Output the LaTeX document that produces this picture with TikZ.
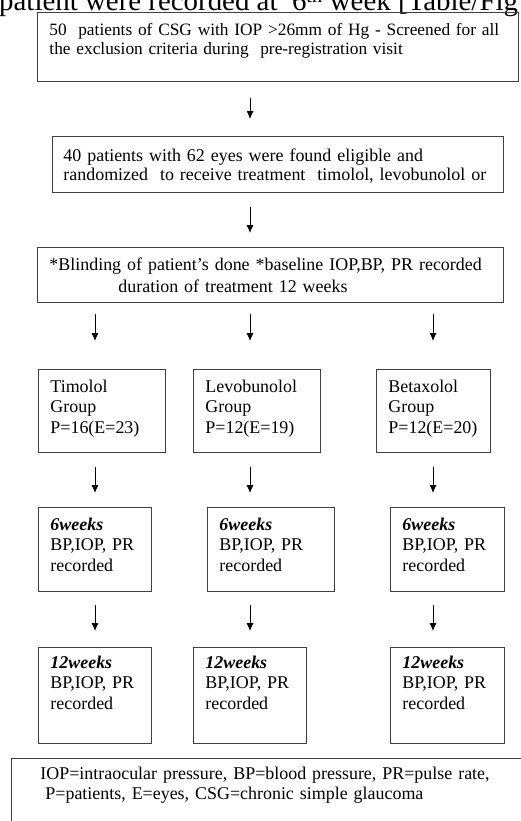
\documentclass[tikz,border=0pt]{standalone}
\usepackage{fontspec}
\setmainfont{Liberation Serif}
\usetikzlibrary{arrows.meta}

\begin{document}
\begin{tikzpicture}[x=1bp, y=-1bp,
    box/.style={draw=black!75, line width=0.9bp, anchor=north west, align=left,
      inner xsep=12bp, inner ysep=0pt, text height=23bp,
      font=\fontsize{18}{20.5}\selectfont},
    arr/.style={-{Latex[length=8bp,width=7bp]}, line width=0.9bp}]
  \useasboundingbox (0,0) rectangle (521,821);
  % caption line cut off at the top
  \node[anchor=base west, inner sep=0pt, font=\fontsize{29}{32}\selectfont] (caption) at (-1,11)
    {patient were recorded at\ \ 6\textsuperscript{th} week [Table/Fig};

  \node[box, text width=457bp, text depth=46bp, font=\fontsize{17.4}{19}\selectfont] (screen) at (37,12)
    {50\ \ patients of CSG with IOP >26mm of Hg - Screened for all\\the exclusion criteria during\ \ pre-registration visit};
  \node[box, inner xsep=11bp, text width=429bp, text height=25bp, text depth=31bp, font=\fontsize{18}{19}\selectfont] (random) at (52,136)
    {40 patients with 62 eyes were found eligible and\\randomized\ \ to receive treatment\ \ timolol, levobunolol or};
  \node[box, text width=442bp, text depth=32bp, font=\fontsize{18}{22}\selectfont] (blind) at (37,247)
    {*Blinding of patient's done *baseline IOP,BP, PR recorded\\\hspace*{69bp}duration of treatment 12 weeks};

  % groups
  \node[box, text width=103bp, text depth=60bp] (timolol) at (38,369) {Timolol\\Group\\P=16(E=23)};
  \node[box, text width=103bp, text depth=60bp] (levo) at (193,369) {Levobunolol\\Group\\P=12(E=19)};
  \node[box, text width=90bp, text depth=60bp] (beta) at (376,369) {Betaxolol\\Group\\P=12(E=20)};

  % 6 weeks
  \node[box, text width=89bp, text depth=61bp] (six1) at (38,507) {\textbf{\textit{6weeks}}\\BP,IOP,~PR\\recorded};
  \node[box, text width=103bp, text depth=61bp] (six2) at (207,507) {\textbf{\textit{6weeks}}\\BP,IOP,~PR\\recorded};
  \node[box, text width=90bp, text depth=61bp] (six3) at (390,507) {\textbf{\textit{6weeks}}\\BP,IOP,~PR\\recorded};

  % 12 weeks
  \node[box, text width=89bp, text height=21bp, text depth=75bp] (twelve1) at (38,647) {\textbf{\textit{12weeks}}\\BP,IOP,~PR\\recorded};
  \node[box, text width=89bp, text height=21bp, text depth=75bp] (twelve2) at (193,647) {\textbf{\textit{12weeks}}\\BP,IOP,~PR\\recorded};
  \node[box, text width=90bp, text height=21bp, text depth=75bp] (twelve3) at (390,647) {\textbf{\textit{12weeks}}\\BP,IOP,~PR\\recorded};

  % abbreviations
  \node[box, text width=500bp, text height=21bp, text depth=80bp] (notes) at (11,758)
    {\hspace*{17bp}IOP=intraocular pressure, BP=blood pressure, PR=pulse rate,\\\hspace*{22bp}P=patients, E=eyes, CSG=chronic simple glaucoma};

  \coordinate (c1) at (95,0);
  \coordinate (c2) at (250,0);
  \coordinate (c3) at (433,0);
  \draw[arr, shorten <=16bp, shorten >=17bp] (screen.south -| c2) -- (random.north -| c2);
  \draw[arr, shorten <=14bp, shorten >=14bp] (random.south -| c2) -- (blind.north -| c2);
  \foreach \g/\c in {timolol/c1, levo/c2, beta/c3}
    \draw[arr, shorten <=11bp, shorten >=28bp] (blind.south -| \c) -- (\g.north -| \c);
  \foreach \a/\b/\c in {timolol/six1/c1, levo/six2/c2, beta/six3/c3}
    \draw[arr, shorten <=14bp, shorten >=14bp] (\a.south -| \c) -- (\b.north -| \c);
  \foreach \a/\b/\c in {six1/twelve1/c1, six2/twelve2/c2, six3/twelve3/c3}
    \draw[arr, shorten <=13bp, shorten >=16bp] (\a.south -| \c) -- (\b.north -| \c);
\end{tikzpicture}
\end{document}
